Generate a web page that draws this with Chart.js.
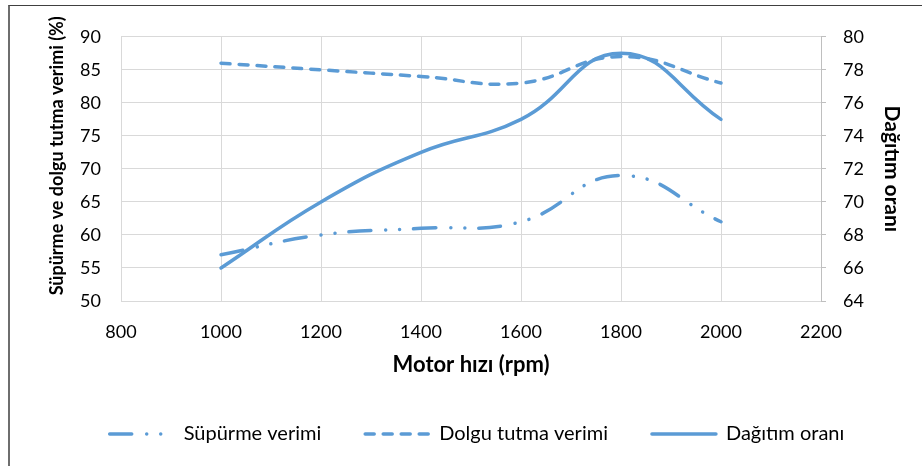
<!DOCTYPE html>
<html>
<head>
<meta charset="utf-8">
<script src="https://cdn.jsdelivr.net/npm/chart.js@4.4.0/dist/chart.umd.min.js"></script>
<style>
  html, body { margin: 0; padding: 0; background: #fff; overflow: hidden; }
  body { width: 922px; height: 466px; position: relative; }
  #box {
    position: absolute; left: 8px; top: 5px;
    width: 935px; height: 461px;
    border-left: 2px solid #6e6e6e; border-top: 1px solid #404040;
  }
</style>
</head>
<body>
<div id="box"><canvas id="chart"></canvas></div>
<script>
const rpm = [1000, 1200, 1400, 1600, 1800, 2000];
const supurmeVerimi = [57, 60, 61, 62, 69, 62];
const dolguTutmaVerimi = [86, 85, 84, 83, 87, 83];
const dagitimOrani = [66, 70, 73, 75, 79, 75];
const seriesNames = ['Süpürme verimi', 'Dolgu tutma verimi', 'Dağıtım oranı'];

const blue = '#5B9BD5';
const grid = '#D9D9D9';
const fontFamily = 'Lato, "Open Sans", sans-serif';

const toPoints = (ys) => rpm.map((x, i) => ({ x: x, y: ys[i] }));

const makeSet = (label, values, axis, dash, cap) => ({
  label: label,
  data: toPoints(values),
  yAxisID: axis,
  borderColor: blue,
  backgroundColor: blue,
  borderWidth: 3.5,
  borderDash: dash,
  borderCapStyle: cap,
  pointRadius: 0,
  pointHoverRadius: 0,
  tension: 0.45,
  fill: false
});

const fixWidth = w => scale => { scale.width = w; };

// legend samples should carry the dash pattern of each line
const legendLabels = chart => {
  const items = Chart.defaults.plugins.legend.labels.generateLabels(chart);
  items.forEach(item => {
    const ds = chart.data.datasets[item.datasetIndex];
    item.lineDash = ds.borderDash;
    item.lineCap = ds.borderCapStyle;
    item.lineWidth = ds.borderWidth;
    item.strokeStyle = ds.borderColor;
    item.pointStyle = 'line';
  });
  return items;
};

// eslint-disable-next-line
const chart = new Chart(document.getElementById('chart').getContext('2d'), {
  type: 'line',
  data: {
    datasets: [
      makeSet(seriesNames[0], supurmeVerimi, 'yLeft', [22, 15, 0.01, 14, 0.01, 14], 'round'),
      makeSet(seriesNames[1], dolguTutmaVerimi, 'yLeft', [9, 9], 'round'),
      makeSet(seriesNames[2], dagitimOrani, 'yRight', [], 'round')
    ]
  },
  options: {
    responsive: true,
    maintainAspectRatio: false,
    animation: false,
    layout: { padding: { left: 30, right: 31, top: 29, bottom: 13 } },
    plugins: {
      tooltip: { enabled: false },
      legend: {
        position: 'bottom',
        labels: {
          usePointStyle: true,
          pointStyle: 'line',
          pointStyleWidth: 64,
          padding: 44,
          color: '#000',
          font: { family: fontFamily, size: 20 },
          generateLabels: legendLabels
        }
      }
    },
    scales: {
      x: {
        type: 'linear',
        min: 800,
        max: 2200,
        afterFit: scale => { scale.height = 79; },
        ticks: {
          stepSize: 200, padding: 20, color: '#000',
          font: { family: fontFamily, size: 18 },
          callback: v => String(v)
        },
        grid: { color: grid, drawTicks: false },
        border: { display: false },
        title: {
          display: true,
          text: 'Motor hızı (rpm)',
          color: '#000',
          font: { family: fontFamily, size: 22, weight: 'bold' },
          padding: { top: 0, bottom: 2 }
        }
      },
      yLeft: {
        position: 'left',
        min: 50,
        max: 90,
        afterFit: fixWidth(81),
        ticks: { stepSize: 5, padding: 20, color: '#000', font: { family: fontFamily, size: 18 } },
        grid: { color: grid, drawTicks: false },
        border: { display: false },
        title: {
          display: true,
          text: '      Süpürme ve dolgu tutma verimi (%)',
          color: '#000',
          font: { family: fontFamily, size: 18, weight: 'bold' },
          padding: { top: 6, bottom: 0 }
        }
      },
      yRight: {
        position: 'right',
        min: 64,
        max: 80,
        afterFit: fixWidth(93),
        ticks: { stepSize: 2, padding: 17, color: '#000', font: { family: fontFamily, size: 18 } },
        grid: { drawOnChartArea: false, color: '#BFBFBF', tickLength: 5 },
        border: { display: true, color: '#BFBFBF' },
        title: {
          display: true,
          text: 'Dağıtım oranı',
          color: '#000',
          font: { family: fontFamily, size: 21, weight: 'bold' },
          padding: { top: 10, bottom: 0 }
        }
      }
    }
  }
});
</script>
</body>
</html>
